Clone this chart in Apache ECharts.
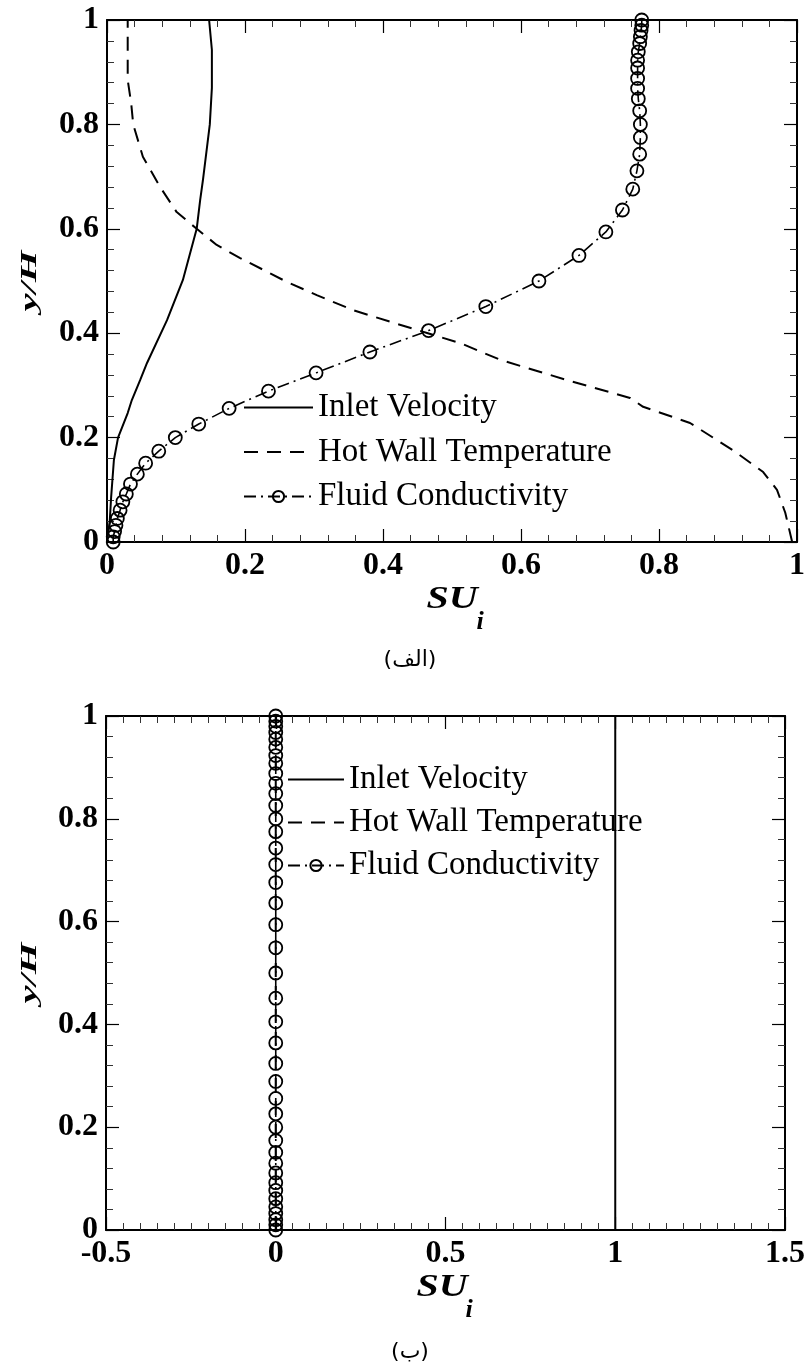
<!DOCTYPE html>
<html><head><meta charset="utf-8">
<script src="https://cdn.jsdelivr.net/npm/echarts@6/dist/echarts.min.js"></script>
<style>html,body{margin:0;padding:0;background:#fff}#c{width:808px;height:1369px}</style>
</head><body><div id="c"></div>
<script>
const seriesNames = ['Inlet Velocity', 'Hot Wall Temperature', 'Fluid Conductivity'];

// ---- Panel (a) ----
const inletA_x = [0, 0.004, 0.006, 0.010, 0.016, 0.030, 0.036, 0.048, 0.058, 0.087, 0.110, 0.130, 0.135, 0.139, 0.149, 0.152, 0.152, 0.148];
const inletA_y = [0, 0.040, 0.086, 0.157, 0.200, 0.247, 0.272, 0.310, 0.343, 0.425, 0.502, 0.600, 0.655, 0.693, 0.800, 0.870, 0.943, 1.000];

const hotA_x = [0.993, 0.983, 0.971, 0.951, 0.907, 0.845, 0.777, 0.758, 0.667, 0.570, 0.512, 0.465, 0.415, 0.357, 0.304, 0.261, 0.236, 0.193, 0.159, 0.130, 0.101, 0.077, 0.052, 0.038, 0.035, 0.030, 0.030];
const hotA_y = [0.000, 0.056, 0.100, 0.134, 0.176, 0.228, 0.259, 0.276, 0.310, 0.349, 0.381, 0.400, 0.420, 0.444, 0.473, 0.498, 0.515, 0.544, 0.569, 0.600, 0.632, 0.680, 0.738, 0.800, 0.841, 0.885, 1.000];

const cond_y = [0.000, 0.010, 0.020, 0.032, 0.045, 0.061, 0.077, 0.092, 0.111, 0.130, 0.151, 0.174, 0.200, 0.226, 0.256, 0.289, 0.324, 0.364, 0.405, 0.451, 0.500,
                0.549, 0.594, 0.636, 0.676, 0.711, 0.743, 0.775, 0.800, 0.826, 0.849, 0.869, 0.888, 0.908, 0.923, 0.939, 0.955, 0.968, 0.980, 0.990, 1.000];
const condA_x = [0.009, 0.009, 0.011, 0.013, 0.015, 0.019, 0.023, 0.028, 0.034, 0.044, 0.056, 0.075, 0.099, 0.133, 0.177, 0.234, 0.303, 0.381, 0.466, 0.549, 0.626,
                 0.684, 0.723, 0.747, 0.762, 0.768, 0.772, 0.773, 0.773, 0.772, 0.770, 0.769, 0.769, 0.769, 0.769, 0.770, 0.772, 0.773, 0.774, 0.775, 0.775];

// ---- Panel (b) ----
const inletB_x = [1, 1];
const inletB_y = [0, 1];
const hotB_x = [0, 0];
const hotB_y = [0, 1];
const condB_x = [0, 0, 0, 0, 0, 0, 0, 0, 0, 0, 0, 0, 0, 0, 0, 0, 0, 0, 0, 0, 0,
                 0, 0, 0, 0, 0, 0, 0, 0, 0, 0, 0, 0, 0, 0, 0, 0, 0, 0, 0, 0];

const captions = ['(الف)', '(ب)'];

function pairs(xs, ys) { return xs.map((v, i) => [v, ys[i]]); }

const serif = '"Liberation Serif", "Times New Roman", serif';

function mkAxis(gridIndex, pos, min, max, interval, split, showLabel) {
  return {
    type: 'value', gridIndex: gridIndex, position: pos, min: min, max: max, interval: interval,
    axisLine: { show: true, onZero: false, lineStyle: { color: '#000', width: 2 } },
    axisTick: { show: true, inside: true, length: 13, lineStyle: { color: '#000', width: 1.2 } },
    minorTick: { show: true, splitNumber: split, length: 7, lineStyle: { color: '#333', width: 1 } },
    splitLine: { show: false }, minorSplitLine: { show: false },
    axisLabel: { show: showLabel, color: '#000', fontFamily: serif, fontWeight: 'bold', fontSize: 32, margin: 8 }
  };
}

function mkSeries(xi, yi, name, data, kind) {
  const s = { name: name, type: 'line', xAxisIndex: xi, yAxisIndex: yi, data: data, clip: false, animation: false, z: 3 };
  if (kind === 'solid') {
    s.symbol = 'none'; s.lineStyle = { color: '#000', width: 2, type: 'solid' };
    s.itemStyle = { color: '#000' };
  } else if (kind === 'dash') {
    s.symbol = 'none'; s.lineStyle = { color: '#000', width: 2, type: [14, 9] };
    s.itemStyle = { color: '#000' };
  } else {
    s.symbol = 'circle'; s.symbolSize = 13; s.showAllSymbol = true;
    s.lineStyle = { color: '#000', width: 1.6, type: [12, 5, 2, 5] };
    s.itemStyle = { color: 'rgba(255,255,255,0)', borderColor: '#000', borderWidth: 1.8 };
  }
  return s;
}

function mkLegend(left, top, itemWidth, gap) {
  return {
    left: left, top: top, orient: 'vertical', itemWidth: itemWidth, itemHeight: 14, itemGap: gap,
    selectedMode: false,
    data: [
      { name: seriesNames[0], itemStyle: { opacity: 0 } },
      { name: seriesNames[1], itemStyle: { opacity: 0 } },
      { name: seriesNames[2] }
    ],
    textStyle: { color: '#000', fontFamily: serif, fontSize: 33, lineHeight: 33 }
  };
}

const chart = echarts.init(document.getElementById('c'), null, { renderer: 'canvas' });
chart.setOption({
  backgroundColor: '#fff',
  animation: false,
  grid: [
    { left: 107, top: 20, width: 692, height: 522 },
    { left: 106, top: 716, width: 681, height: 514 }
  ],
  xAxis: [
    mkAxis(0, 'bottom', 0, 1, 0.2, 5, true),
    mkAxis(0, 'top', 0, 1, 0.2, 5, false),
    mkAxis(1, 'bottom', -0.5, 1.5, 0.5, 10, true),
    mkAxis(1, 'top', -0.5, 1.5, 0.5, 10, false)
  ],
  yAxis: [
    mkAxis(0, 'left', 0, 1, 0.2, 5, true),
    mkAxis(0, 'right', 0, 1, 0.2, 5, false),
    mkAxis(1, 'left', 0, 1, 0.2, 5, true),
    mkAxis(1, 'right', 0, 1, 0.2, 5, false)
  ],
  legend: [
    mkLegend(238, 386, 69, 11.5),
    mkLegend(282, 758, 56, 10)
  ],
  series: [
    mkSeries(0, 0, seriesNames[0], pairs(inletA_x, inletA_y), 'solid'),
    mkSeries(0, 0, seriesNames[1], pairs(hotA_x, hotA_y), 'dash'),
    mkSeries(0, 0, seriesNames[2], pairs(condA_x, cond_y), 'dashdot'),
    mkSeries(2, 2, seriesNames[0], pairs(inletB_x, inletB_y), 'solid'),
    mkSeries(2, 2, seriesNames[1], pairs(hotB_x, hotB_y), 'dash'),
    mkSeries(2, 2, seriesNames[2], pairs(condB_x, cond_y), 'dashdot')
  ],
  graphic: [
    { type: 'text', x: 30, y: 281, rotation: Math.PI / 2, scaleX: 1.7, style: { text: 'y/H', font: 'italic bold 24px ' + serif, textAlign: 'center', textVerticalAlign: 'middle', fill: '#000' } },
    { type: 'text', x: 452, y: 600, scaleX: 1.25, style: { text: 'SU', font: 'italic bold 32px ' + serif, textAlign: 'center', textVerticalAlign: 'middle', fill: '#000' } },
    { type: 'text', x: 480, y: 622, style: { text: 'i', font: 'italic bold 26px ' + serif, textAlign: 'center', textVerticalAlign: 'middle', fill: '#000' } },
    { type: 'text', x: 410, y: 660, style: { text: captions[0], font: '22px "DejaVu Sans", "Noto Sans", sans-serif', textAlign: 'center', textVerticalAlign: 'middle', fill: '#000' } },

    { type: 'text', x: 30, y: 973, rotation: Math.PI / 2, scaleX: 1.7, style: { text: 'y/H', font: 'italic bold 24px ' + serif, textAlign: 'center', textVerticalAlign: 'middle', fill: '#000' } },
    { type: 'text', x: 442, y: 1288, scaleX: 1.25, style: { text: 'SU', font: 'italic bold 32px ' + serif, textAlign: 'center', textVerticalAlign: 'middle', fill: '#000' } },
    { type: 'text', x: 469, y: 1310, style: { text: 'i', font: 'italic bold 26px ' + serif, textAlign: 'center', textVerticalAlign: 'middle', fill: '#000' } },
    { type: 'text', x: 410, y: 1352, style: { text: captions[1], font: '22px "DejaVu Sans", "Noto Sans", sans-serif', textAlign: 'center', textVerticalAlign: 'middle', fill: '#000' } }
  ]
});
</script>
</body></html>
